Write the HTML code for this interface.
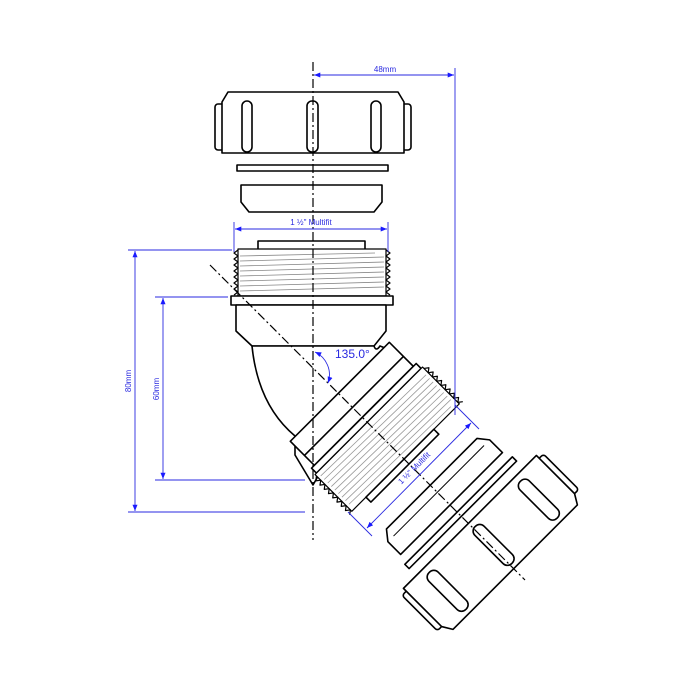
<!DOCTYPE html>
<html><head><style>body{margin:0;background:#fff}svg{display:block}</style></head><body>
<svg width="700" height="700" viewBox="0 0 700 700" xmlns="http://www.w3.org/2000/svg" font-family="Liberation Sans, sans-serif">
<defs>
<marker id="a" viewBox="0 0 10 10" refX="10" refY="5" markerWidth="7" markerHeight="7" orient="auto-start-reverse"><path d="M0,1 L10,5 L0,9z" fill="#1a1aff"/></marker>
</defs>
<g stroke="#000" stroke-width="1.6" fill="#fff" stroke-linejoin="round">
<rect x="215" y="104" width="10" height="46" rx="3"/>
<rect x="401" y="104" width="10" height="46" rx="3"/>
<path d="M222,102 L228,92 L398,92 L404,102 L404,153 L222,153Z"/>
<rect x="242" y="101" width="10" height="51" rx="5"/>
<rect x="307" y="101" width="11" height="51" rx="5"/>
<rect x="371" y="101" width="10" height="51" rx="5"/>
<rect x="237" y="165" width="151" height="6"/>
<path d="M241,185 L382,185 L382,202 L374,212 L249,212 L241,202Z"/>
<rect x="258" y="241" width="107" height="9"/>
<rect x="238" y="249" width="148" height="47" stroke-width="1.2"/>
<path d="M238,250 l-4,3 l4,3 l-4,3 l4,3 l-4,3 l4,3 l-4,3 l4,3 l-4,3 l4,3 l-4,3 l4,3 l-4,3 l4,3 l-4,3 M386,250 l4,3 l-4,3 l4,3 l-4,3 l4,3 l-4,3 l4,3 l-4,3 l4,3 l-4,3 l4,3 l-4,3 l4,3 l-4,3 l4,3" fill="none" stroke-width="1.2"/>
<g stroke="#888" stroke-width="0.8" fill="none">
<path d="M240,256 L375,253 M240,261 L384,257 M240,266 L384,262 M240,271 L384,267 M240,276 L384,272 M240,281 L384,277 M240,286 L384,282 M240,291 L384,287"/>
</g>
<rect x="231" y="296" width="162" height="9"/>
<path d="M236,305 L386,305 L386,331 L374,346 L252,346 L236,331Z"/>
<path d="M252,346 Q258,405 295,436 L295,455 L313,485 L390,350 L380,346 Q376,352 374,346Z"/>
</g>
<g transform="translate(320,372) rotate(-45)" stroke="#000" stroke-width="1.6" fill="#fff" stroke-linejoin="round">
<path d="M-70,28 L70,28 L70,62 L-70,62Z"/>
<line x1="-70" y1="48" x2="70" y2="48"/>
<rect x="-74" y="62" width="148" height="7"/>
<rect x="-76" y="69" width="152" height="52" stroke-width="1.2"/>
<path d="M76,71 l4,3 l-4,3 l4,3 l-4,3 l4,3 l-4,3 l4,3 l-4,3 l4,3 l-4,3 l4,3 l-4,3 l4,3 l-4,3 l4,3 l-4,3 l4,3 M-76,71 l-4,3 l4,3 l-4,3 l4,3 l-4,3 l4,3 l-4,3 l4,3 l-4,3 l4,3 l-4,3 l4,3 l-4,3 l4,3 l-4,3 l4,3 l-4,3" fill="none" stroke-width="1.2"/>
<g stroke="#999" stroke-width="0.8" fill="none">
<path d="M-73,74 L73,77 M-73,79 L73,82 M-73,84 L73,87 M-73,89 L73,92 M-73,94 L73,97 M-73,99 L73,102 M-73,104 L73,107 M-73,109 L73,112 M-73,114 L68,117"/>
</g>
<rect x="-56" y="121" width="96" height="7"/>
<path d="M-64,158 L64,158 L72,168 L72,186 L-72,186 L-72,168Z"/>
<line x1="-64" y1="168" x2="64" y2="168" stroke-width="1"/>
<rect x="-76" y="196" width="152" height="6"/>
<rect x="-100" y="216" width="10" height="50" rx="3"/>
<rect x="90" y="216" width="10" height="50" rx="3"/>
<path d="M-94,212 L94,212 L94,266 L88,276 L-88,276 L-94,266Z"/>
<rect x="-71" y="219" width="13" height="52" rx="6"/>
<rect x="-6" y="219" width="13" height="52" rx="6"/>
<rect x="58" y="219" width="13" height="52" rx="6"/>
</g>
<g stroke="#000" stroke-width="1.2" stroke-dasharray="9,3,2,3" fill="none">
<line x1="313" y1="62" x2="313" y2="540"/>
<line x1="210" y1="265" x2="525" y2="580"/>
</g>
<g stroke="#2a2ae0" stroke-width="0.9" fill="none">
<line x1="455" y1="68" x2="455" y2="415"/>
<line x1="314" y1="75" x2="454" y2="75" marker-start="url(#a)" marker-end="url(#a)"/>
<line x1="234" y1="222" x2="234" y2="252"/>
<line x1="388" y1="222" x2="388" y2="252"/>
<line x1="235" y1="229" x2="387" y2="229" marker-start="url(#a)" marker-end="url(#a)"/>
<line x1="128" y1="250" x2="232" y2="250"/>
<line x1="128" y1="512" x2="305" y2="512"/>
<line x1="135" y1="251" x2="135" y2="511" marker-start="url(#a)" marker-end="url(#a)"/>
<line x1="155" y1="297" x2="228" y2="297"/>
<line x1="155" y1="480" x2="305" y2="480"/>
<line x1="163" y1="298" x2="163" y2="479" marker-start="url(#a)" marker-end="url(#a)"/>
<line x1="348" y1="512" x2="372" y2="536"/>
<line x1="455" y1="405" x2="479" y2="429"/>
<line x1="367" y1="528" x2="471" y2="423" marker-start="url(#a)" marker-end="url(#a)"/>
<path d="M315,352 A25,25 0 0 1 328,383" marker-start="url(#a)" marker-end="url(#a)"/>
</g>
<g fill="#2a2ae0" font-size="8">
<text x="385" y="72" text-anchor="middle">48mm</text>
<text x="311" y="225" text-anchor="middle">1 ½" Multifit</text>
<text transform="translate(131,381) rotate(-90)" text-anchor="middle">80mm</text>
<text transform="translate(159,389) rotate(-90)" text-anchor="middle">60mm</text>
<text transform="translate(416,470) rotate(-45)" text-anchor="middle">1 ½" Multifit</text>
<text x="335" y="358" font-size="12">135.0°</text>
</g>
</svg>
</body></html>
